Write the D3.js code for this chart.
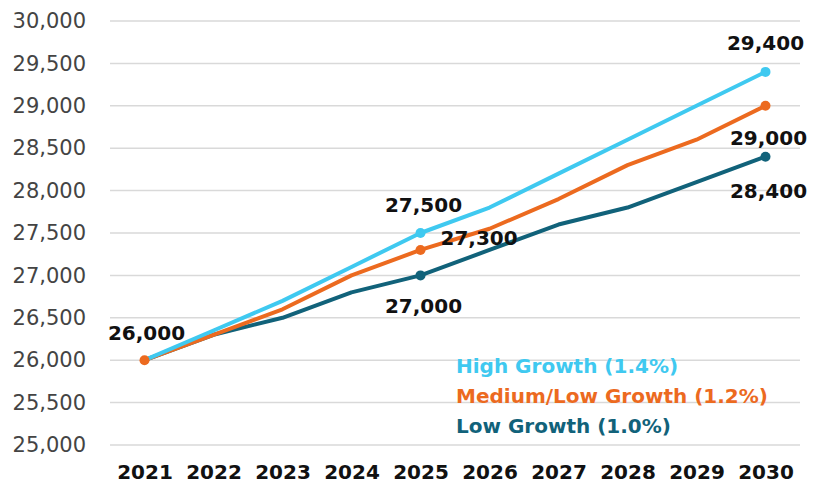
<!DOCTYPE html>
<html lang="en">
<head>
    <meta charset="UTF-8">
    <title>Growth Scenarios 2021-2030</title>
    <script src="https://d3js.org/d3.v7.min.js"></script>
    <style>
        body {
            margin: 0;
            padding: 0;
            overflow: hidden;
            background-color: #fff;
        }
    </style>
</head>
<body>
    <div id="chart"></div>
    <script>
        // Data
        const years = ["2021", "2022", "2023", "2024", "2025", "2026", "2027", "2028", "2029", "2030"];
        const highGrowth = [26000, 26350, 26700, 27100, 27500, 27800, 28200, 28600, 29000, 29400];
        const mediumGrowth = [26000, 26300, 26600, 27000, 27300, 27550, 27900, 28300, 28600, 29000];
        const lowGrowth = [26000, 26300, 26500, 26800, 27000, 27300, 27600, 27800, 28100, 28400];
        const yTicks = [25000, 25500, 26000, 26500, 27000, 27500, 28000, 28500, 29000, 29500, 30000];
        const legendLabels = ["High Growth (1.4%)", "Medium/Low Growth (1.2%)", "Low Growth (1.0%)"];

        const width = 815;
        const height = 494;
        const colors = { high: "#3fc9f0", medium: "#ec6a1f", low: "#11627a" };

        const svg = d3.select("#chart")
            .append("svg")
            .attr("width", width)
            .attr("height", height);

        // Scales
        const x = d3.scalePoint()
            .domain(years)
            .range([110, 800])
            .padding(0.5);

        const y = d3.scaleLinear()
            .domain([25000, 30000])
            .range([445, 21]);

        // Gridlines
        svg.append("g")
            .selectAll("line")
            .data(yTicks)
            .enter().append("line")
            .attr("x1", 110)
            .attr("x2", 800)
            .attr("y1", d => y(d))
            .attr("y2", d => y(d))
            .attr("stroke", "#d9d9d9")
            .attr("stroke-width", 1.5);

        // Y axis
        const yAxis = svg.append("g")
            .attr("transform", "translate(86,0)")
            .call(d3.axisLeft(y).tickValues(yTicks).tickSize(0).tickFormat(d3.format(",")));
        yAxis.select(".domain").remove();
        yAxis.selectAll("text")
            .attr("x", 0)
            .style("font-family", "DejaVu Sans")
            .style("font-size", "21px")
            .style("fill", "#444");

        // X axis
        const xAxis = svg.append("g")
            .attr("transform", "translate(0,462)")
            .call(d3.axisBottom(x).tickSize(0));
        xAxis.select(".domain").remove();
        xAxis.selectAll("text")
            .attr("dy", "0.71em")
            .attr("y", 3)
            .style("font-family", "DejaVu Sans")
            .style("font-weight", "bold")
            .style("font-size", "20px")
            .style("fill", "#111");

        // Lines
        const series = [
            { key: "low", values: lowGrowth, markers: [4, 9] },
            { key: "medium", values: mediumGrowth, markers: [0, 4, 9] },
            { key: "high", values: highGrowth, markers: [4, 9] }
        ];

        const line = d3.line()
            .x((d, i) => x(years[i]))
            .y(d => y(d));

        series.forEach(s => {
            svg.append("path")
                .datum(s.values)
                .attr("fill", "none")
                .attr("stroke", colors[s.key])
                .attr("stroke-width", 4)
                .attr("stroke-linejoin", "round")
                .attr("d", line);
        });

        series.forEach(s => {
            svg.append("g")
                .selectAll("circle")
                .data(s.markers)
                .enter().append("circle")
                .attr("cx", i => x(years[i]))
                .attr("cy", i => y(s.values[i]))
                .attr("r", 5)
                .attr("fill", colors[s.key]);
        });

        // Value labels
        const labels = [
            { v: highGrowth, i: 0, dx: 2, dy: -20, anchor: "middle" },
            { v: highGrowth, i: 4, dx: 3, dy: -21, anchor: "middle" },
            { v: mediumGrowth, i: 4, dx: 20, dy: -5, anchor: "start" },
            { v: lowGrowth, i: 4, dx: 3, dy: 38, anchor: "middle" },
            { v: highGrowth, i: 9, dx: 0, dy: -22, anchor: "middle" },
            { v: mediumGrowth, i: 9, dx: 3, dy: 39, anchor: "middle" },
            { v: lowGrowth, i: 9, dx: 3, dy: 41, anchor: "middle" }
        ];

        svg.append("g")
            .selectAll("text")
            .data(labels)
            .enter().append("text")
            .attr("x", d => x(years[d.i]) + d.dx)
            .attr("y", d => y(d.v[d.i]) + d.dy)
            .attr("text-anchor", d => d.anchor)
            .style("font-family", "DejaVu Sans")
            .style("font-weight", "bold")
            .style("font-size", "20px")
            .style("fill", "#111")
            .text(d => d3.format(",")(d.v[d.i]));

        // Legend
        const legendColors = [colors.high, colors.medium, colors.low];
        svg.append("g")
            .selectAll("text")
            .data(legendLabels)
            .enter().append("text")
            .attr("x", 456)
            .attr("y", (d, i) => 373 + i * 30)
            .style("font-family", "DejaVu Sans")
            .style("font-weight", "bold")
            .style("font-size", "20px")
            .style("fill", (d, i) => legendColors[i])
            .text(d => d);
    </script>
</body>
</html>
